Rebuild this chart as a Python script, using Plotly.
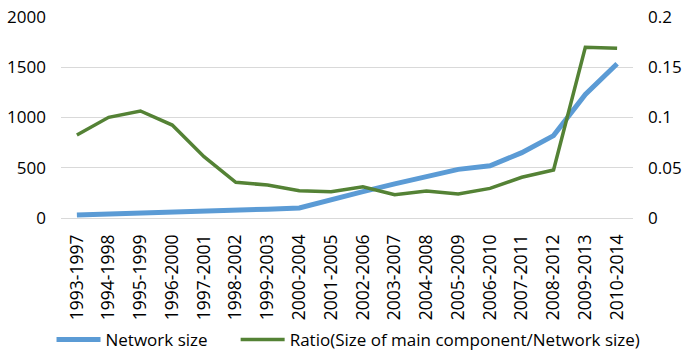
import plotly.graph_objects as go

periods = ["1993-1997", "1994-1998", "1995-1999", "1996-2000", "1997-2001", "1998-2002",
           "1999-2003", "2000-2004", "2001-2005", "2002-2006", "2003-2007", "2004-2008",
           "2005-2009", "2006-2010", "2007-2011", "2008-2012", "2009-2013", "2010-2014"]
network_size = [30, 38, 45, 55, 65, 80, 88, 100, 186, 262, 340, 410, 484, 520, 650, 820, 1230, 1535]
ratio_main = [0.0826, 0.1002, 0.1065, 0.0925, 0.061, 0.0355, 0.0328, 0.0272, 0.0262, 0.0311,
              0.0232, 0.0269, 0.0239, 0.0295, 0.0405, 0.0478, 0.1699, 0.1689]

left_ticks = [0, 500, 1000, 1500, 2000]
right_ticks = [0, 0.05, 0.1, 0.15, 0.2]
right_labels = ["0", "0.05", "0.1", "0.15", "0.2"]

FONT = "Open Sans"

fig = go.Figure()
fig.add_trace(go.Scatter(x=periods, y=network_size, name="Network size", mode="lines",
                         line=dict(color="#5B9BD5", width=5), legend="legend"))
fig.add_trace(go.Scatter(x=periods, y=ratio_main, name="Ratio(Size of main component/Network size)",
                         mode="lines", yaxis="y2", line=dict(color="#548235", width=3.5),
                         legend="legend2"))

legend_common = dict(orientation="h", xref="container", yref="container", y=0.037,
                     xanchor="left", yanchor="middle", font=dict(size=17),
                     itemwidth=44, bgcolor="rgba(0,0,0,0)")

fig.update_layout(
    width=687, height=353,
    margin=dict(l=61, r=54, t=17, b=135),
    paper_bgcolor="white", plot_bgcolor="white",
    font=dict(family=FONT, size=17, color="#000000"),
    showlegend=True,
    legend=dict(x=0.075, **legend_common),
    legend2=dict(x=0.343, **legend_common),
    xaxis=dict(type="category", tickangle=-90, tickfont=dict(size=17.5), showgrid=False,
               showline=False, ticks="", range=[-0.5, 17.5], ticklabelstandoff=12,
               automargin=False),
    yaxis=dict(range=[0, 2000], tickvals=left_ticks, showgrid=True, gridcolor="#D9D9D9",
               gridwidth=1, zeroline=True, zerolinecolor="#D9D9D9", zerolinewidth=1,
               ticks="", ticklabelstandoff=14, automargin=False),
    yaxis2=dict(range=[0, 0.2], tickvals=right_ticks, ticktext=right_labels, overlaying="y",
                side="right", showgrid=False, zeroline=False, ticks="", ticklabelstandoff=14,
                automargin=False),
)

fig.write_html("out.html")
